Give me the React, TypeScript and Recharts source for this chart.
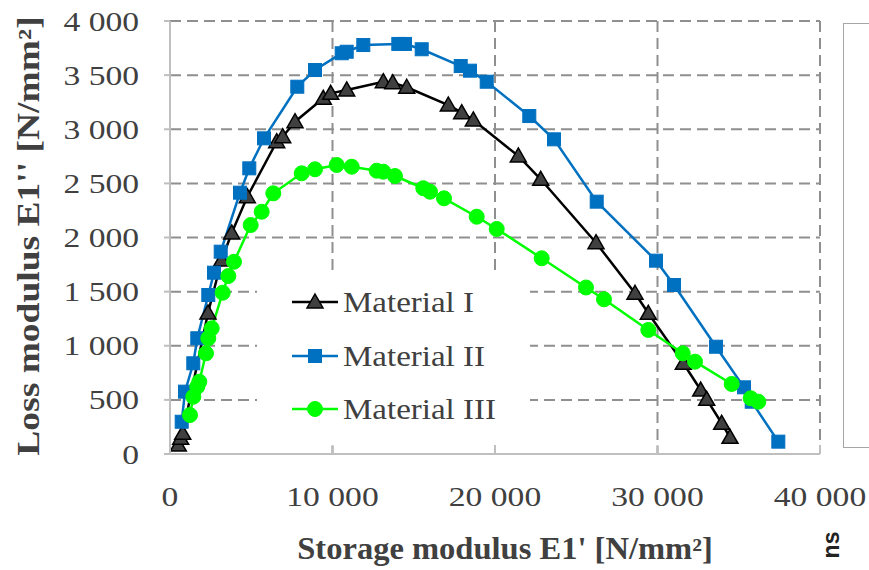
import { LineChart, Line, XAxis, YAxis, CartesianGrid, Legend, Label } from "recharts";

// Material I (black triangles)
const matIx = [511, 658, 782, 2338, 3181, 3797, 4757, 6566, 6935, 7692, 9434, 9889, 10874, 13126, 13705, 14567, 17127, 17951, 18665, 21434, 22813, 26216, 28616, 29435, 31589, 32659, 33028, 33951, 34462];
const matIy = [83, 145, 191, 1303, 1792, 2042, 2377, 2885, 2931, 3070, 3286, 3332, 3363, 3439, 3430, 3388, 3224, 3153, 3086, 2753, 2538, 1952, 1485, 1300, 838, 591, 505, 284, 154];

// Material II (blue squares)
const matIIx = [720, 923, 1434, 1680, 2357, 2708, 3120, 4308, 4880, 5785, 7834, 8923, 10566, 10874, 11896, 14050, 14462, 15490, 17890, 18462, 19490, 22111, 23631, 26259, 29908, 31016, 33601, 35324, 35798, 37435];
const matIIy = [298, 576, 838, 1069, 1469, 1675, 1869, 2414, 2639, 2916, 3393, 3547, 3702, 3716, 3778, 3788, 3788, 3739, 3584, 3541, 3439, 3122, 2907, 2331, 1786, 1561, 991, 616, 483, 114];

// Material III (green circles)
const matIIIx = [1231, 1434, 1680, 1803, 2215, 2357, 2566, 3243, 3588, 3938, 4966, 5643, 6357, 8105, 8923, 10258, 11182, 12720, 13126, 13846, 15588, 16000, 16862, 18874, 20105, 22874, 25600, 26708, 29435, 31552, 32308, 34566, 35736, 36204];
const matIIIy = [360, 529, 622, 668, 930, 1069, 1161, 1490, 1644, 1776, 2115, 2238, 2408, 2593, 2630, 2670, 2654, 2617, 2608, 2568, 2455, 2423, 2362, 2192, 2079, 1808, 1538, 1429, 1146, 930, 853, 647, 515, 483];

const xTicks = [0, 10000, 20000, 30000, 40000];
const yTicks = [0, 500, 1000, 1500, 2000, 2500, 3000, 3500, 4000];

const toPoints = (xs: number[], ys: number[]) => xs.map((x, i) => ({ x, y: ys[i] }));
const fmt = (v: number) => String(v).replace(/\B(?=(\d{3})+(?!\d))/g, " ");

const serif = '"Liberation Serif", "Times New Roman", serif';
const textColor = "#404040";

const triangle = (cx: number, cy: number, key?: string) => (
  <polygon
    key={key}
    points={`${cx},${cy - 8} ${cx + 8},${cy + 6} ${cx - 8},${cy + 6}`}
    fill="#404040"
    stroke="#000"
    strokeWidth={1.5}
  />
);
const square = (cx: number, cy: number, key?: string) => (
  <rect key={key} x={cx - 6.5} y={cy - 6.5} width={13} height={13} fill="#0070C0" stroke="#0070C0" strokeWidth={1} />
);
const circle = (cx: number, cy: number, key?: string) => (
  <circle key={key} cx={cx} cy={cy} r={7.5} fill="#00FF00" stroke="#00FF00" strokeWidth={1} />
);

const series = [
  { name: "Material I", data: toPoints(matIx, matIy), color: "#000000", marker: triangle },
  { name: "Material II", data: toPoints(matIIx, matIIy), color: "#0070C0", marker: square },
  { name: "Material III", data: toPoints(matIIIx, matIIIy), color: "#00FF00", marker: circle },
];

function XTick({ x, y, payload }: any) {
  return (
    <g>
      <line x1={x} x2={x} y1={y} y2={y - 9} stroke="#bfbfbf" strokeWidth={2} />
      <text
        transform={`translate(${x},${y + 52}) scale(1.2,1)`}
        textAnchor="middle"
        fontFamily={serif}
        fontSize={28}
        fill={textColor}
      >
        {fmt(payload.value)}
      </text>
    </g>
  );
}

function YTick({ x, y, payload }: any) {
  return (
    <text
      transform={`translate(${x},${y}) scale(1.2,1)`}
      textAnchor="end"
      dominantBaseline="central"
      fontFamily={serif}
      fontSize={28}
      fill={textColor}
    >
      {fmt(payload.value)}
    </text>
  );
}

const renderLegend = () => (
  <div style={{ position: "relative", width: 273, height: 175 }}>
    {series.map((s, i) => (
      <div
        key={s.name}
        style={{ position: "absolute", left: 35, top: 32 + i * 53.5 - 18, height: 36, display: "flex", alignItems: "center" }}
      >
        <svg width={46} height={20} style={{ display: "block" }}>
          <line x1={0} x2={46} y1={10} y2={10} stroke={s.color} strokeWidth={2.5} />
          {s.marker(23, 10)}
        </svg>
        <span
          style={{
            marginLeft: 5,
            fontFamily: serif,
            fontSize: 30,
            color: textColor,
            whiteSpace: "nowrap",
            display: "inline-block",
            transform: "scaleX(1.1)",
            transformOrigin: "left center",
          }}
        >
          {s.name}
        </span>
      </div>
    ))}
  </div>
);

export default function App() {
  return (
    <div style={{ position: "absolute", left: 0, top: 0, width: 869, height: 570, overflow: "hidden", background: "#fff" }}>
      <LineChart width={869} height={570} margin={{ top: 21, right: 49, left: 0, bottom: 0 }}>
        <CartesianGrid stroke="#8f8f8f" strokeWidth={2} strokeDasharray="11 6" />
        <XAxis
          type="number"
          dataKey="x"
          domain={[0, 40000]}
          ticks={xTicks}
          height={116}
          axisLine={{ stroke: "#bfbfbf", strokeWidth: 2 }}
          tickLine={false}
          tickSize={0}
          tickMargin={0}
          tick={<XTick />}
        >
          <Label
            content={() => (
              <text
                transform="translate(505,559) scale(1.05,1)"
                textAnchor="middle"
                fontFamily={serif}
                fontWeight="bold"
                fontSize={31}
                fill={textColor}
              >
                Storage modulus E1' [N/mm²]
              </text>
            )}
          />
        </XAxis>
        <YAxis
          type="number"
          dataKey="y"
          domain={[0, 4000]}
          ticks={yTicks}
          width={170}
          axisLine={{ stroke: "#bfbfbf", strokeWidth: 2 }}
          tickLine={{ stroke: "#bfbfbf", strokeWidth: 2 }}
          tickSize={6}
          tickMargin={25}
          tick={<YTick />}
        >
          <Label
            content={() => (
              <text
                transform="translate(28,236) rotate(-90) scale(1.21,1)"
                textAnchor="middle"
                dominantBaseline="central"
                fontFamily={serif}
                fontWeight="bold"
                fontSize={31}
                fill={textColor}
              >
                Loss modulus E1'' [N/mm²]
              </text>
            )}
          />
        </YAxis>
        <Legend
          layout="vertical"
          verticalAlign="middle"
          align="center"
          wrapperStyle={{ left: 257, top: 270, width: 273, height: 175, background: "#fff" }}
          content={renderLegend}
        />
        {series.map((s) => (
          <Line
            key={s.name}
            name={s.name}
            data={s.data}
            dataKey="y"
            type="linear"
            stroke={s.color}
            strokeWidth={2.5}
            dot={(p: any) => s.marker(p.cx, p.cy, `${s.name}-${p.index}`)}
            activeDot={false}
            isAnimationActive={false}
          />
        ))}
      </LineChart>
      <div
        style={{ position: "absolute", left: 843, top: 23, width: 60, height: 425, border: "1.5px solid #a6a6a6", boxSizing: "border-box" }}
      />
      <div
        style={{
          position: "absolute",
          left: 831,
          top: 545,
          transform: "translate(-50%, -50%) rotate(-90deg)",
          fontFamily: '"Liberation Sans", Arial, sans-serif',
          fontWeight: "bold",
          fontSize: 23,
          color: "#222",
          whiteSpace: "nowrap",
        }}
      >
        ns
      </div>
    </div>
  );
}
